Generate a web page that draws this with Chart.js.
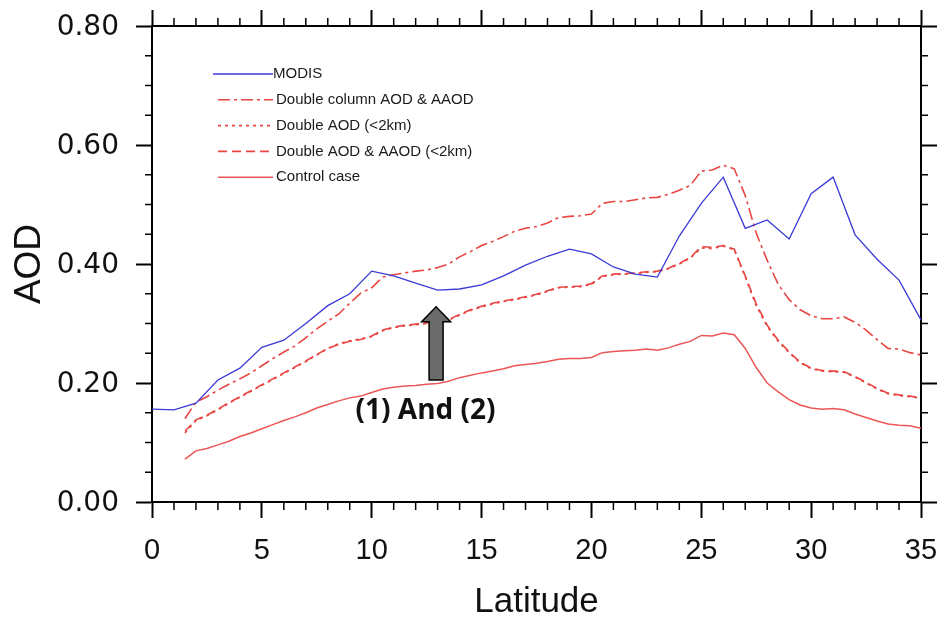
<!DOCTYPE html>
<html>
<head>
<meta charset="utf-8">
<script src="https://cdn.jsdelivr.net/npm/chart.js@4.4.0/dist/chart.umd.min.js"></script>
<style>
    html, body { margin: 0; padding: 0; background: #fff; }
    #wrap { width: 938px; height: 618px; }
</style>
</head>
<body>
<div id="wrap"><canvas id="aod"></canvas></div>
<script>
// MODIS, one value per degree of latitude
const modisLat = [0,1,2,3,4,5,6,7,8,9,10,11,12,13,14,15,16,17,18,19,20,21,22,23,24,25,26,27,28,29,30,31,32,33,34,35];
const modisAod = [.156,.155,.166,.205,.225,.260,.272,.300,.330,.350,.388,.380,.368,.356,.358,.365,.380,.398,.413,.425,.417,.395,.383,.378,.447,.502,.546,.460,.474,.442,.518,.546,.449,.408,.373,.306];

// model runs, half degree steps
const modelLat = [1.5,2,2.5,3,3.5,4,4.5,5,5.5,6,6.5,7,7.5,8,8.5,9,9.5,10,10.5,11,11.5,12,12.5,13,13.5,14,14.5,15,15.5,16,16.5,17,17.5,18,18.5,19,19.5,20,20.5,21,21.5,22,22.5,23,23.5,24,24.5,25,25.5,26,26.5,27,27.5,28,28.5,29,29.5,30,30.5,31,31.5,32,32.5,33,33.5,34,34.5,35];
const doubleColumn = [.140,.168,.177,.188,.198,.207,.217,.229,.241,.252,.262,.276,.291,.304,.316,.334,.351,.360,.378,.382,.385,.388,.390,.394,.400,.412,.421,.431,.438,.446,.455,.460,.463,.469,.478,.480,.481,.484,.502,.505,.505,.508,.511,.512,.517,.524,.532,.556,.558,.566,.560,.515,.452,.406,.366,.340,.323,.313,.308,.308,.311,.302,.289,.273,.258,.257,.251,.247];
const doubleAodLow = [.116,.137,.145,.155,.166,.176,.186,.196,.206,.216,.226,.236,.247,.258,.266,.271,.274,.278,.288,.293,.296,.298,.300,.302,.306,.314,.322,.328,.333,.337,.340,.344,.348,.354,.360,.361,.362,.366,.379,.382,.383,.384,.386,.387,.392,.400,.410,.427,.426,.430,.424,.378,.330,.295,.270,.251,.234,.224,.220,.219,.218,.210,.200,.190,.182,.179,.177,.174];
const doubleAodAaodLow = [.119,.138,.146,.156,.167,.177,.187,.197,.207,.217,.227,.237,.248,.258,.265,.270,.273,.279,.289,.294,.297,.299,.301,.303,.307,.315,.323,.329,.334,.338,.341,.345,.349,.355,.361,.362,.363,.367,.380,.383,.384,.385,.387,.388,.393,.401,.411,.429,.428,.431,.425,.380,.333,.297,.272,.252,.235,.225,.221,.220,.219,.211,.201,.191,.183,.180,.178,.175];
const controlCase = [.072,.086,.090,.096,.102,.110,.116,.123,.130,.137,.143,.150,.158,.164,.170,.175,.178,.184,.190,.193,.195,.196,.198,.199,.203,.209,.213,.217,.220,.224,.229,.231,.233,.236,.240,.241,.241,.243,.251,.253,.254,.255,.257,.255,.259,.265,.270,.280,.279,.284,.281,.258,.226,.200,.185,.172,.163,.158,.156,.157,.155,.148,.142,.136,.131,.129,.128,.124];

const seriesLabels = ['MODIS', 'Double column AOD & AAOD', 'Double AOD (<2km)', 'Double AOD & AAOD (<2km)', 'Control case'];
const annotationText = '(1) And (2)';

const toPoints = (xs, ys) => xs.map((x, i) => ({x: x, y: ys[i]}));

const red = 'rgb(232,70,66)';

// minor ticks on all four sides of the frame
const minorTicks = {
    id: 'minorTicks',
    afterDraw(chart) {
        const {ctx, chartArea: a, scales: {x, y}} = chart;
        ctx.save();
        ctx.strokeStyle = '#000';
        ctx.lineWidth = 1.5;
        ctx.beginPath();
        for (let v = 1; v < 35; v++) {
            if (v % 5 === 0) continue;
            const px = x.getPixelForValue(v);
            ctx.moveTo(px, a.bottom); ctx.lineTo(px, a.bottom + 8);
            ctx.moveTo(px, a.top); ctx.lineTo(px, a.top - 8);
        }
        for (let k = 1; k < 16; k++) {
            if (k % 4 === 0) continue;
            const py = y.getPixelForValue(k * 0.05);
            ctx.moveTo(a.left, py); ctx.lineTo(a.left - 7, py);
            ctx.moveTo(a.right, py); ctx.lineTo(a.right + 7, py);
        }
        ctx.stroke();
        ctx.restore();
    }
};

// NCL style legend: line sample then label, top left inside the frame
const frameLegend = {
    id: 'frameLegend',
    afterDraw(chart) {
        const ctx = chart.ctx;
        ctx.save();
        ctx.font = '15px "Liberation Sans", Arial, sans-serif';
        ctx.textBaseline = 'middle';
        ctx.fillStyle = '#1a1a1a';
        chart.data.datasets.forEach((ds, i) => {
            const yy = 74 + i * 25.8;
            ctx.strokeStyle = ds.borderColor;
            ctx.lineWidth = ds.borderWidth;
            ctx.setLineDash(ds.borderDash || []);
            ctx.beginPath();
            ctx.moveTo(i === 0 ? 213 : 218, yy);
            ctx.lineTo(273, yy);
            ctx.stroke();
            ctx.fillText(ds.label, i === 0 ? 273 : 276, yy);
        });
        ctx.restore();
    }
};

// grey arrow with "(1) And (2)" below it
const arrowNote = {
    id: 'arrowNote',
    afterDraw(chart) {
        const {ctx, scales: {x, y}} = chart;
        const cx = x.getPixelForValue(12.93);
        const base = y.getPixelForValue(0.205);
        const tip = y.getPixelForValue(0.328);
        const neck = tip + 15;
        ctx.save();
        ctx.beginPath();
        ctx.moveTo(cx - 7, base);
        ctx.lineTo(cx + 7, base);
        ctx.lineTo(cx + 7, neck);
        ctx.lineTo(cx + 14.5, neck);
        ctx.lineTo(cx, tip);
        ctx.lineTo(cx - 14.5, neck);
        ctx.lineTo(cx - 7, neck);
        ctx.closePath();
        ctx.fillStyle = '#6b6b6b';
        ctx.fill();
        ctx.strokeStyle = '#000';
        ctx.lineWidth = 1.5;
        ctx.stroke();
        ctx.font = 'bold 28px "Open Sans", sans-serif';
        ctx.fillStyle = '#111';
        ctx.textAlign = 'center';
        ctx.textBaseline = 'middle';
        ctx.fillText(annotationText, x.getPixelForValue(12.45), base + 31);
        ctx.restore();
    }
};

const frameAxis = (pos, size) => ({
    type: 'linear',
    position: pos,
    border: {display: true, color: '#000', width: 2},
    grid: {drawOnChartArea: false, drawTicks: true, tickLength: 16, tickWidth: 2, tickColor: '#000'},
    afterFit: (s) => {
        if (s.isHorizontal()) s.height = size; else s.width = size;
        s.paddingLeft = s.paddingRight = s.paddingTop = s.paddingBottom = 0;
    },
});

const ctx = document.getElementById('aod').getContext('2d');

new Chart(ctx, {
    type: 'line',
    data: {
        datasets: [
            {
                label: seriesLabels[0],
                data: toPoints(modisLat, modisAod),
                borderColor: 'rgb(58,58,215)',
                borderWidth: 1.3,
            },
            {
                label: seriesLabels[1],
                data: toPoints(modelLat, doubleColumn),
                borderColor: red,
                borderWidth: 1.6,
                borderDash: [12, 4, 3, 4],
            },
            {
                label: seriesLabels[2],
                data: toPoints(modelLat, doubleAodLow),
                borderColor: red,
                borderWidth: 1.6,
                borderDash: [3, 4],
            },
            {
                label: seriesLabels[3],
                data: toPoints(modelLat, doubleAodAaodLow),
                borderColor: red,
                borderWidth: 1.6,
                borderDash: [9, 5],
            },
            {
                label: seriesLabels[4],
                data: toPoints(modelLat, controlCase),
                borderColor: 'rgb(236,86,86)',
                borderWidth: 1.5,
            },
        ],
    },
    options: {
        responsive: true,
        maintainAspectRatio: false,
        animation: false,
        layout: {padding: 0},
        elements: {
            point: {radius: 0},
            line: {tension: 0, fill: false},
        },
        scales: {
            x: {
                ...frameAxis('bottom', 116),
                min: 0,
                max: 35,
                ticks: {stepSize: 5, padding: 16, color: '#111', maxRotation: 0,
                    font: {family: '"Liberation Sans", Arial, sans-serif', size: 29}},
                title: {display: true, text: 'Latitude', color: '#111', padding: {top: 0, bottom: 0},
                    font: {family: '"Liberation Sans", Arial, sans-serif', size: 35, lineHeight: 0.9}},
            },
            x2: {
                ...frameAxis('top', 26),
                min: 0,
                max: 35,
                ticks: {display: false, stepSize: 5},
            },
            y: {
                ...frameAxis('left', 152),
                min: 0,
                max: 0.8,
                ticks: {stepSize: 0.2, padding: 17, labelOffset: 2, color: '#111', callback: (v) => v.toFixed(2),
                    font: {family: '"DejaVu Sans", sans-serif', size: 28}},
                title: {display: true, text: 'AOD', color: '#111', padding: {top: 8, bottom: 0},
                    font: {family: '"Liberation Sans", Arial, sans-serif', size: 37}},
            },
            y2: {
                ...frameAxis('right', 17),
                min: 0,
                max: 0.8,
                ticks: {display: false, stepSize: 0.2},
            },
        },
        plugins: {
            legend: {display: false},
            tooltip: {enabled: false},
        },
    },
    plugins: [minorTicks, frameLegend, arrowNote],
});
</script>
</body>
</html>
